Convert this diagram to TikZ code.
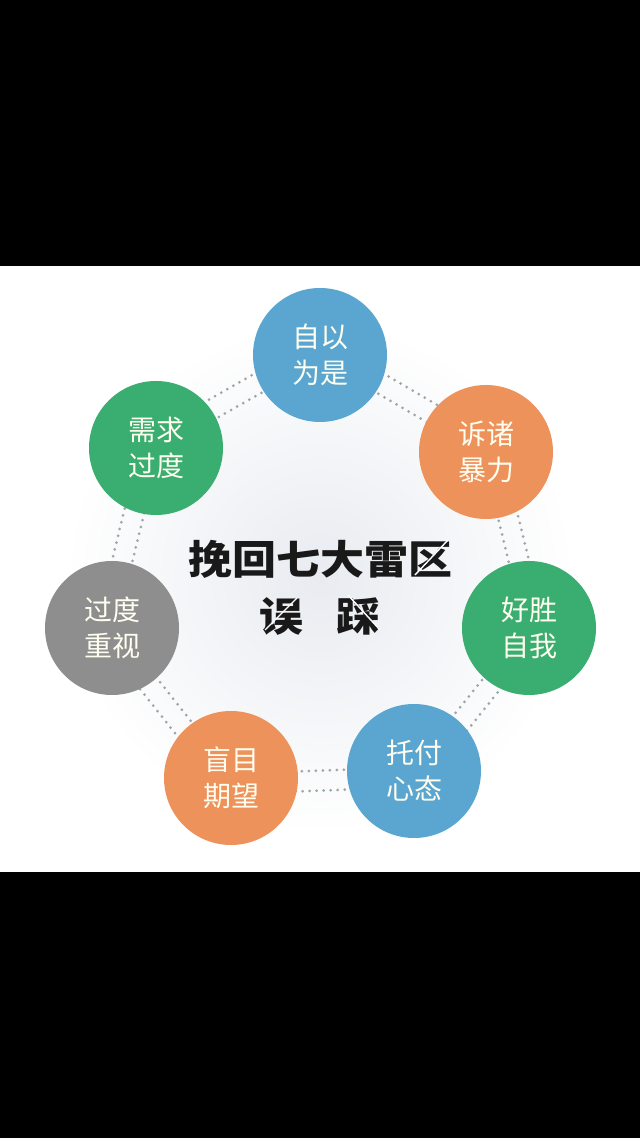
\documentclass[tikz,border=0pt]{standalone}
\usepackage{fontspec}
\newfontfamily\cjk{Noto Sans CJK SC}
\usepackage{tikz}
\usetikzlibrary{calc,backgrounds}
\definecolor{trapblue}{RGB}{90,166,208}
\definecolor{traporange}{RGB}{238,146,92}
\definecolor{trapgreen}{RGB}{58,174,112}
\definecolor{trapgray}{RGB}{142,142,142}
\definecolor{dotgray}{RGB}{158,164,168}
\definecolor{glowgray}{RGB}{232,235,240}

\begin{document}
\begin{tikzpicture}[
        x=1pt, y=1pt,
        trap/.style={circle, minimum size=134pt, inner sep=0pt, align=center, text=white!94!yellow, font=\cjk\fontsize{28}{36}\selectfont},
        blueball/.style={trap, fill=trapblue},
        orangeball/.style={trap, fill=traporange},
        greenball/.style={trap, fill=trapgreen},
        grayball/.style={trap, fill=trapgray},
        headline/.style={align=center, text=black!90, xscale=1.1, font=\cjk\bfseries\fontsize{40}{57}\selectfont},
        dots/.style={draw=dotgray, line width=3pt, line cap=round, dash pattern=on 0pt off 7pt},
        crack/.style={draw=white, line width=1.4pt}
    ]
        \useasboundingbox (0,0) rectangle (640,1138);

        % Nodes
        \node[blueball] (zyws) at (320,783) {自以\\为是};
        \node[orangeball] (szbl) at (486,686) {诉诸\\暴力};
        \node[greenball] (hszw) at (529,510) {好胜\\自我};
        \node[blueball] (tfxt) at (414,367) {托付\\心态};
        \node[orangeball] (mmqw) at (231,360) {盲目\\期望};
        \node[grayball] (gdzs) at (112,510) {过度\\重视};
        \node[greenball] (xqgd) at (156,690) {需求\\过度};

        \node[headline] (title) at (320,550) {挽回七大雷区\\误\hspace{30pt}踩};

        % Background and dotted ring
        \begin{scope}[on background layer]
            \fill[black] (0,0) rectangle (640,1138);
            \fill[white] (0,266) rectangle (640,872);
            \shade[inner color=glowgray, outer color=white] (320,560) circle (255);
            \foreach \a/\b in {zyws/szbl, szbl/hszw, hszw/tfxt, tfxt/mmqw, mmqw/gdzs, gdzs/xqgd, xqgd/zyws} {
                \draw[dots] ($(\a)!16pt!90:(\b)$) -- ($(\b)!16pt!-90:(\a)$);
                \draw[dots] ($(\a)!-4pt!90:(\b)$) -- ($(\b)!-4pt!-90:(\a)$);
            }
        \end{scope}

        % Cracks in the title
        \draw[crack] (448,598) -- (415,563);
        \draw[crack] (297,540) -- (265,508);
        \draw[crack] (348,543) -- (380,508);
    \end{tikzpicture}
\end{document}
